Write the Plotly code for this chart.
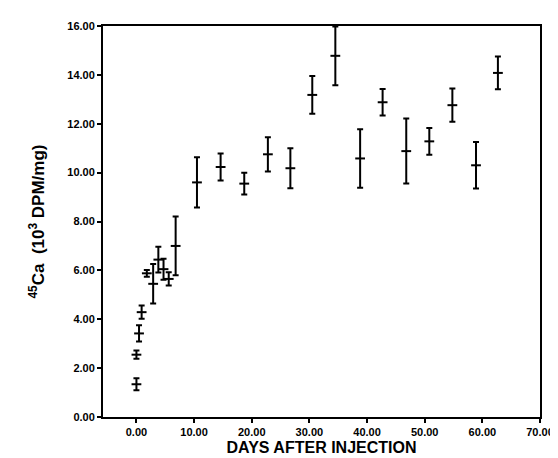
import plotly.graph_objects as go

# days after injection and 45Ca uptake (10^3 DPM/mg)
days = [0.0, 0.0, 0.45, 0.9, 1.8, 2.9, 3.8, 4.7, 5.6, 6.8,
        10.5, 14.6, 18.7, 22.8, 26.7, 30.5, 34.5, 38.8, 42.7, 46.8,
        50.8, 54.8, 58.9, 62.7]
ca45 = [1.34, 2.55, 3.42, 4.29, 5.88, 5.45, 6.44, 6.05, 5.65, 7.0,
        9.6, 10.23, 9.55, 10.75, 10.18, 13.18, 14.78, 10.58, 12.88, 10.88,
        11.28, 12.76, 10.3, 14.08]
sem = [0.25, 0.17, 0.33, 0.27, 0.14, 0.81, 0.53, 0.43, 0.27, 1.2,
       1.03, 0.55, 0.45, 0.7, 0.82, 0.77, 1.2, 1.2, 0.54, 1.33,
       0.55, 0.68, 0.95, 0.67]

x_ticks = [0, 10, 20, 30, 40, 50, 60, 70]
y_ticks = [0, 2, 4, 6, 8, 10, 12, 14, 16]

font = "Liberation Sans, Arial, sans-serif"

fig = go.Figure()
fig.add_trace(go.Scatter(
    x=days, y=ca45, mode="markers",
    marker=dict(symbol="line-ew", size=7, line=dict(width=2, color="black"), color="black"),
    error_y=dict(type="data", array=sem, visible=True, color="black", thickness=2, width=3),
    cliponaxis=False, showlegend=False,
))

axis_common = dict(
    showline=True, linecolor="black", linewidth=2, mirror=True,
    ticks="outside", ticklen=4, tickwidth=1.5, tickcolor="black",
    showgrid=False, zeroline=False,
    tickfont=dict(family=font, size=11, color="black", weight="bold"),
)

fig.update_layout(
    width=558, height=458,
    margin=dict(l=95, r=22, t=16, b=40),
    paper_bgcolor="white", plot_bgcolor="white",
    xaxis=dict(range=[-5.8, 70], tickvals=x_ticks,
               ticktext=[f"{v:.2f}" for v in x_ticks],
               title=dict(text="DAYS AFTER INJECTION", standoff=5,
                          font=dict(family=font, size=16, color="black", weight="bold")),
               **axis_common),
    yaxis=dict(range=[0, 16], tickvals=y_ticks,
               ticktext=[f"{v:.2f}" for v in y_ticks],
               title=dict(text="<sup>45</sup>Ca  (10<sup>3</sup> DPM/mg)", standoff=18,
                          font=dict(family=font, size=17, color="black", weight="bold")),
               **axis_common),
)

fig.write_html("out.html")
